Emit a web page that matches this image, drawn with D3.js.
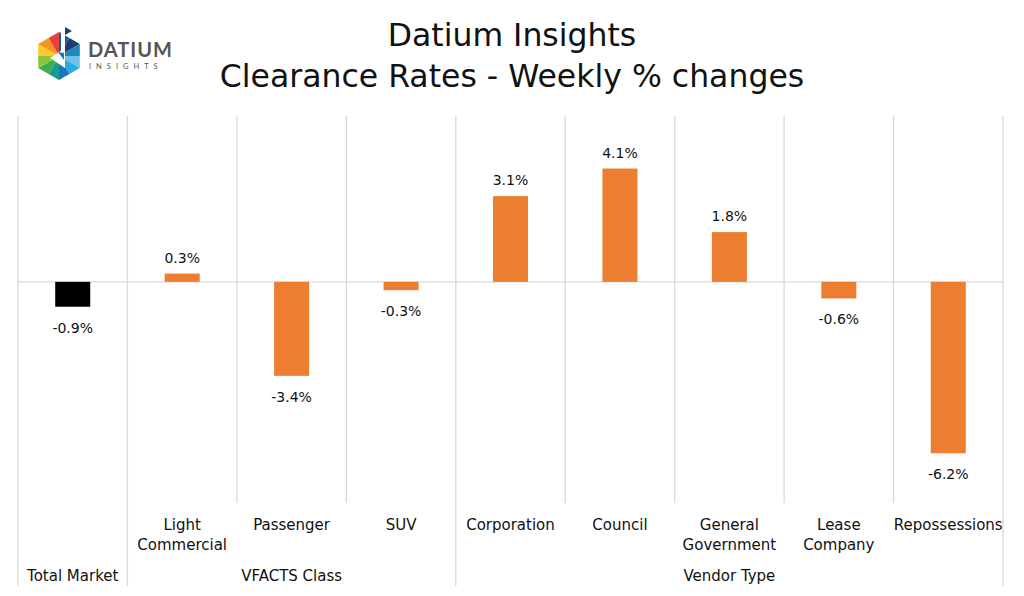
<!DOCTYPE html>
<html lang="en">
<head>
	<title> Datium Insights - Clearance Rates </title>
	<meta charset="utf-8">
	<script src="https://cdn.jsdelivr.net/npm/d3@7"></script>
</head>
<style>
	body
	{
		margin: 0;
		background: #ffffff;
	}

	svg text
	{
		font-family: "DejaVu Sans", "Noto Sans", sans-serif;
		fill: #111111;
	}

	.grid
	{
		stroke: #d9d9d9;
		stroke-width: 1.3;
	}
</style>

<body>

	<svg id="barChart" width="1024" height="596"></svg>
	<script type="text/javascript">

		// chart data
		var categories = ['Total Market', 'Light Commercial', 'Passenger', 'SUV', 'Corporation', 'Council', 'General Government', 'Lease Company', 'Repossessions'];
		var labelLines = [['Total Market'], ['Light', 'Commercial'], ['Passenger'], ['SUV'], ['Corporation'], ['Council'], ['General', 'Government'], ['Lease', 'Company'], ['Repossessions']];
		var values = [-0.9, 0.3, -3.4, -0.3, 3.1, 4.1, 1.8, -0.6, -6.2];
		var groups = ['', 'VFACTS Class', 'VFACTS Class', 'VFACTS Class', 'Vendor Type', 'Vendor Type', 'Vendor Type', 'Vendor Type', 'Vendor Type'];
		var groupNames = ['VFACTS Class', 'Vendor Type'];

		var svg = d3.select('#barChart'),
			plotLeft = 18, plotRight = 1003,
			plotTop = 116, plotBottom = 503, axisBottom = 586;

		var x = d3.scaleBand().domain(categories).range([plotLeft, plotRight]).padding(0),
			y = d3.scaleLinear().domain([-8, 6]).range([plotBottom, plotTop]);

		var barW = x.bandwidth() * 0.32;

		// title
		svg.append('text').attr('x', 512).attr('y', 46).attr('text-anchor', 'middle')
			.style('font-size', '31.5px').text('Datium Insights');
		svg.append('text').attr('x', 512).attr('y', 87).attr('text-anchor', 'middle')
			.style('font-size', '31.5px').text('Clearance Rates - Weekly % changes');

		// logo
		var logo = svg.append('g').attr('transform', 'translate(59,56)');
		var R = 24;
		var hexColors = [['#1b5e95', '#1c3f6e'], ['#1e88b8', '#6cc3e8'], ['#29abe2', '#1b75bc'], ['#1a9c8a', '#3dae49'], ['#8cc63f', '#fdc82f'], ['#f7941d', '#e8413c']];
		for (var i = 0; i < 6; i++)
		{
			var a0 = (-90 + i * 60) * Math.PI / 180, a1 = (-30 + i * 60) * Math.PI / 180;
			var p0 = [R * Math.cos(a0), R * Math.sin(a0)], p1 = [R * Math.cos(a1), R * Math.sin(a1)];
			var m = [(p0[0] + p1[0]) / 2, (p0[1] + p1[1]) / 2];
			logo.append('path').attr('d', 'M0,0L' + p0 + 'L' + m + 'Z').attr('fill', hexColors[i][0]);
			logo.append('path').attr('d', 'M0,0L' + m + 'L' + p1 + 'Z').attr('fill', hexColors[i][1]);
		}
		logo.append('path').attr('d', 'M-9,2L6,-8L6,12Z').attr('fill', '#ffffff');
		logo.append('path').attr('d', 'M-1,-4L5,-3L5,4Z').attr('fill', '#1b75bc');
		logo.append('rect').attr('x', 2).attr('y', -30).attr('width', 4).attr('height', 26).attr('fill', '#ffffff');
		logo.append('path').attr('d', 'M6,-29L13,-25L6,-21Z').attr('fill', '#1c3f6e');
		svg.append('text').attr('x', 88).attr('y', 57)
			.style('font-family', 'Lato, sans-serif')
			.style('font-size', '20px').style('font-weight', 'bold').style('letter-spacing', '1px')
			.style('fill', '#555555').text('DATIUM');
		svg.append('text').attr('x', 89).attr('y', 69)
			.style('font-family', 'Lato, sans-serif')
			.style('font-size', '7.5px').style('letter-spacing', '5px')
			.style('fill', '#555555').text('INSIGHTS');

		// grid: vertical separators
		categories.forEach(function(c, i)
		{
			if (i === 0) return;
			var full = groups[i] !== groups[i - 1];
			svg.append('line').attr('class', 'grid')
				.attr('x1', x(c)).attr('x2', x(c))
				.attr('y1', plotTop).attr('y2', full ? axisBottom : plotBottom);
		});
		[plotLeft, plotRight].forEach(function(px)
		{
			svg.append('line').attr('class', 'grid')
				.attr('x1', px).attr('x2', px).attr('y1', plotTop).attr('y2', axisBottom);
		});

		// zero line
		svg.append('line').attr('class', 'grid')
			.attr('x1', plotLeft).attr('x2', plotRight).attr('y1', y(0)).attr('y2', y(0));

		// bars
		svg.selectAll('.bar')
			.data(values)
			.enter().append('rect')
			.attr('class', 'bar')
			.attr('x', function(d, i) { return x(categories[i]) + (x.bandwidth() - barW) / 2; })
			.attr('y', function(d) { return y(Math.max(0, d)); })
			.attr('width', barW)
			.attr('height', function(d) { return Math.abs(y(d) - y(0)); })
			.attr('fill', function(d, i) { return i === 0 ? '#000000' : '#ed7d31'; });

		// data labels
		svg.selectAll('.val')
			.data(values)
			.enter().append('text')
			.attr('class', 'val')
			.attr('x', function(d, i) { return x(categories[i]) + x.bandwidth() / 2; })
			.attr('y', function(d) { return d >= 0 ? y(d) - 11 : y(d) + 26; })
			.attr('text-anchor', 'middle')
			.style('font-size', '14px')
			.text(function(d) { return d.toFixed(1) + '%'; });

		// category labels
		categories.forEach(function(c, i)
		{
			var cx = x(c) + x.bandwidth() / 2;
			if (i === 0)
			{
				svg.append('text').attr('x', cx).attr('y', 581).attr('text-anchor', 'middle')
					.style('font-size', '15px').text(c);
				return;
			}
			labelLines[i].forEach(function(t, j)
			{
				svg.append('text').attr('x', cx).attr('y', 530 + j * 20).attr('text-anchor', 'middle')
					.style('font-size', '15px').text(t);
			});
		});

		// group labels
		groupNames.forEach(function(g)
		{
			var members = categories.filter(function(c, i) { return groups[i] === g; });
			var x0 = x(members[0]), x1 = x(members[members.length - 1]) + x.bandwidth();
			svg.append('text').attr('x', (x0 + x1) / 2).attr('y', 581).attr('text-anchor', 'middle')
				.style('font-size', '15px').text(g);
		});
	</script>
</body>
</html>
